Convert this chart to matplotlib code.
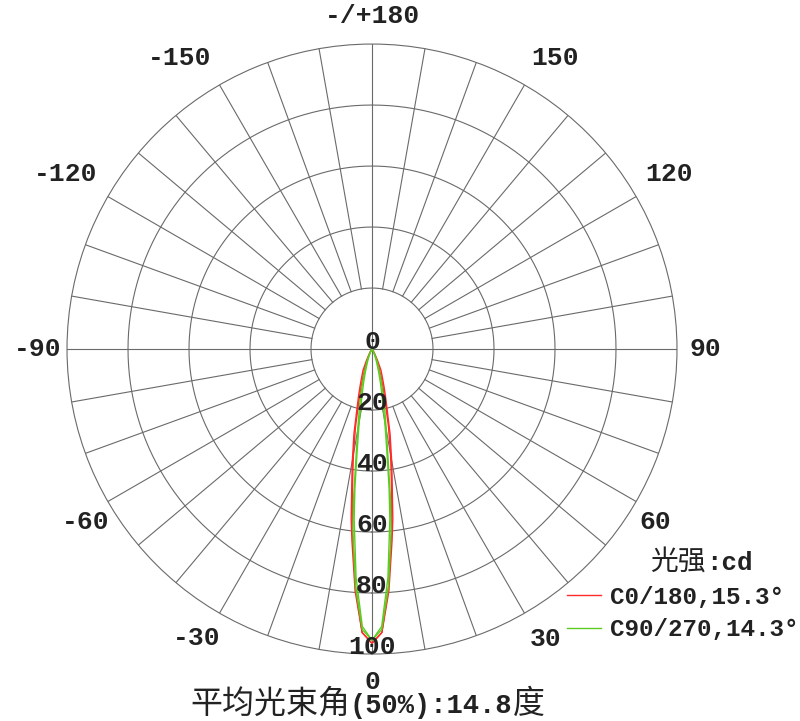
import numpy as np
import matplotlib
matplotlib.use("Agg")
import matplotlib.pyplot as plt
from matplotlib.offsetbox import TextArea, HPacker, AnchoredOffsetbox

# gamma angles (deg) and intensity for each C plane
gamma = [0, 2, 4, 6, 7, 8, 9, 10, 12, 14, 16, 18, 20, 23, 26, 30, 35, 40, 90]
c0 = [96.5, 93, 79.5, 63, 56, 48, 42, 37, 28.5, 20.5, 16, 12.5, 10, 7.5, 4, 1.5, 0.3, 0, 0]
c180 = [96.5, 93, 78, 61, 53, 46, 40, 35, 26, 18, 13, 9.5, 7, 4.5, 2.5, 1, 0.2, 0, 0]
c90 = [95.5, 92, 78, 60, 50, 39, 32, 27, 20, 15, 11, 8, 6, 4, 2.5, 1, 0.2, 0, 0]
c270 = [95.5, 91, 75, 56, 46, 36, 29, 24, 16, 11.5, 8, 5.5, 4, 2.3, 1.2, 0.5, 0, 0, 0]

ring_values = [0, 20, 40, 60, 80, 100]
angle_ticks = [0, 30, 60, 90, 120, 150, 180, -150, -120, -90, -60, -30]
angle_labels = ["0", "30", "60", "90", "120", "150", "-/+180",
                "-150", "-120", "-90", "-60", "-30"]
legend_labels = ["C0/180,15.3°", "C90/270,14.3°"]

# where each angle label sits (theta deg, radius), tuned by eye
label_theta = [0, 31, 58.6, 90, 120.5, 147.8, 180, -146.6, -119.7, -90, -58.9, -31.2]
label_r = [109.3, 110.8, 109, 109.3, 113, 112.8, 109.3, 114.3, 115.8, 109.5, 109.8, 110.8]

mono = "Liberation Mono"
cjk = "Noto Sans CJK SC"
txt_color = "#222222"
grid_color = "#6a6a6a"

fig = plt.figure(figsize=(8, 7.21), dpi=100)
ax = fig.add_axes([0.08375, 0.0929, 0.7625, 0.846], projection="polar")
ax.set_theta_zero_location("S")
ax.set_theta_direction(1)
ax.set_ylim(0, 100)
ax.grid(False)
ax.set_xticks([])
ax.set_yticks([])
ax.spines["polar"].set_color(grid_color)
ax.spines["polar"].set_linewidth(0.8)

# rings
circ = np.linspace(0, 2 * np.pi, 361)
for r in ring_values[1:-1]:
    ax.plot(circ, np.full_like(circ, r), color=grid_color, lw=0.8)

# spokes every 10 deg, only the axes cross reaches the centre
for a in range(0, 360, 10):
    t = np.deg2rad(a)
    r_in = 0 if a % 90 == 0 else 20
    ax.plot([t, t], [r_in, 100], color=grid_color, lw=0.8)


def mirrored(values):
    g = np.array(gamma, dtype=float)
    v = np.array(values, dtype=float)
    th = np.deg2rad(np.concatenate([-g[::-1], g[1:]]))
    rr = np.concatenate([v[::-1], v[1:]])
    return th, rr


red = "#ff2a2a"
green = "#5ccc22"
h_red, = ax.plot(*mirrored(c0), color=red, lw=1.0)
ax.plot(*mirrored(c180), color=red, lw=1.0)
h_green, = ax.plot(*mirrored(c90), color=green, lw=1.0)
ax.plot(*mirrored(c270), color=green, lw=1.0)

# ring labels along the 0 spoke
for r in ring_values:
    ax.text(0, r, str(r), ha="center", va="baseline", fontsize=19,
            family=mono, weight="bold", color=txt_color, clip_on=False)

# angle labels outside the circle
for th, rr, lab in zip(label_theta, label_r, angle_labels):
    ax.text(np.deg2rad(th), rr, lab, ha="center", va="center", fontsize=19,
            family=mono, weight="bold", color=txt_color, clip_on=False)

# legend
leg = fig.legend([h_red, h_green], legend_labels, loc="center left",
                 bbox_to_anchor=(0.709, 0.149), frameon=False, borderpad=0,
                 borderaxespad=0, handlelength=1.4, handletextpad=0.35,
                 labelspacing=0.38,
                 prop={"family": mono, "weight": "bold", "size": 17.5})
for t in leg.get_texts():
    t.set_color(txt_color)

title_box = HPacker(children=[
    TextArea("光强", textprops=dict(family=cjk, size=20, color=txt_color)),
    TextArea(":cd", textprops=dict(family=mono, weight="bold", size=18.5,
                                   color=txt_color)),
], align="baseline", pad=0, sep=0)
fig.add_artist(AnchoredOffsetbox(loc="center left", child=title_box, pad=0,
                                 borderpad=0, frameon=False,
                                 bbox_to_anchor=(0.813, (721 - 562) / 721),
                                 bbox_transform=fig.transFigure))

bottom_box = HPacker(children=[
    TextArea("平均光束角", textprops=dict(family=cjk, size=23, color=txt_color)),
    TextArea("(50%):14.8", textprops=dict(family=mono, weight="bold", size=19.5,
                                          color=txt_color)),
    TextArea("度", textprops=dict(family=cjk, size=23, color=txt_color)),
], align="baseline", pad=0, sep=0)
fig.add_artist(AnchoredOffsetbox(loc="center", child=bottom_box, pad=0,
                                 borderpad=0, frameon=False,
                                 bbox_to_anchor=(0.459, (721 - 704) / 721),
                                 bbox_transform=fig.transFigure))

fig.savefig("out.png", dpi=100, facecolor="white")
